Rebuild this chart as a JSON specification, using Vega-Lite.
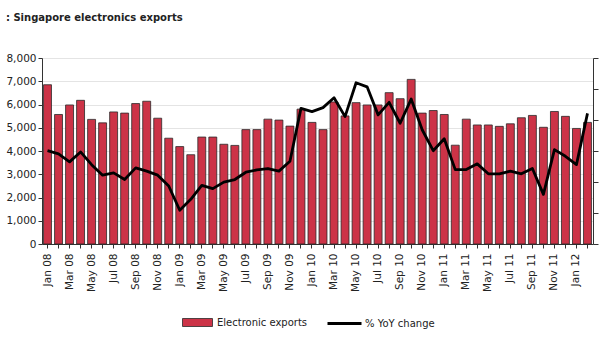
{
  "$schema": "https://vega.github.io/schema/vega-lite/v6.json",
  "width": 599,
  "height": 337,
  "autosize": {"type": "fit", "contains": "padding"},
  "padding": {"left": 5, "top": 13, "right": 0, "bottom": 45},
  "background": "white",
  "title": {
    "text": ": Singapore electronics exports",
    "anchor": "start",
    "offset": 30,
    "font": "DejaVu Sans",
    "fontSize": 10,
    "fontWeight": "bold",
    "color": "#222"
  },
  "config": {
    "view": {"stroke": null},
    "font": "DejaVu Sans",
    "axis": {"labelFont": "DejaVu Sans", "labelFontSize": 10.5, "labelColor": "#222", "domainColor": "#333", "tickColor": "#333"},
    "legend": {
      "labelFont": "DejaVu Sans",
      "labelFontSize": 10,
      "labelColor": "#222"
    }
  },
  "data": {
    "values": [
      {"month": "Jan 08", "exports": 6850, "yoy": 0.2},
      {"month": "Feb 08", "exports": 5570, "yoy": -1.9},
      {"month": "Mar 08", "exports": 5980, "yoy": -7.0},
      {"month": "Apr 08", "exports": 6180, "yoy": -0.6},
      {"month": "May 08", "exports": 5360, "yoy": -8.8},
      {"month": "Jun 08", "exports": 5210, "yoy": -15.6},
      {"month": "Jul 08", "exports": 5680, "yoy": -14.1},
      {"month": "Aug 08", "exports": 5630, "yoy": -18.4},
      {"month": "Sep 08", "exports": 6040, "yoy": -10.9},
      {"month": "Oct 08", "exports": 6140, "yoy": -13.0},
      {"month": "Nov 08", "exports": 5410, "yoy": -15.6},
      {"month": "Dec 08", "exports": 4550, "yoy": -22.6},
      {"month": "Jan 09", "exports": 4190, "yoy": -38.2},
      {"month": "Feb 09", "exports": 3840, "yoy": -31.2},
      {"month": "Mar 09", "exports": 4600, "yoy": -22.2},
      {"month": "Apr 09", "exports": 4600, "yoy": -24.3},
      {"month": "May 09", "exports": 4290, "yoy": -20.1},
      {"month": "Jun 09", "exports": 4240, "yoy": -18.4},
      {"month": "Jul 09", "exports": 4920, "yoy": -13.7},
      {"month": "Aug 09", "exports": 4920, "yoy": -12.2},
      {"month": "Sep 09", "exports": 5370, "yoy": -11.3},
      {"month": "Oct 09", "exports": 5330, "yoy": -13.0},
      {"month": "Nov 09", "exports": 5070, "yoy": -6.6},
      {"month": "Dec 09", "exports": 5800, "yoy": 27.5},
      {"month": "Jan 10", "exports": 5230, "yoy": 25.4},
      {"month": "Feb 10", "exports": 4920, "yoy": 28.0},
      {"month": "Mar 10", "exports": 6110, "yoy": 34.4},
      {"month": "Apr 10", "exports": 5510, "yoy": 22.2},
      {"month": "May 10", "exports": 6080, "yoy": 44.0},
      {"month": "Jun 10", "exports": 5980, "yoy": 41.4},
      {"month": "Jul 10", "exports": 5980, "yoy": 23.3},
      {"month": "Aug 10", "exports": 6510, "yoy": 31.4},
      {"month": "Sep 10", "exports": 6250, "yoy": 17.9},
      {"month": "Oct 10", "exports": 7080, "yoy": 33.5},
      {"month": "Nov 10", "exports": 5630, "yoy": 13.7},
      {"month": "Dec 10", "exports": 5740, "yoy": 0.2},
      {"month": "Jan 11", "exports": 5570, "yoy": 7.9},
      {"month": "Feb 11", "exports": 4250, "yoy": -12.0},
      {"month": "Mar 11", "exports": 5370, "yoy": -12.0},
      {"month": "Apr 11", "exports": 5120, "yoy": -8.3},
      {"month": "May 11", "exports": 5120, "yoy": -14.7},
      {"month": "Jun 11", "exports": 5060, "yoy": -14.7},
      {"month": "Jul 11", "exports": 5170, "yoy": -13.0},
      {"month": "Aug 11", "exports": 5430, "yoy": -14.7},
      {"month": "Sep 11", "exports": 5530, "yoy": -11.3},
      {"month": "Oct 11", "exports": 5020, "yoy": -28.0},
      {"month": "Nov 11", "exports": 5700, "yoy": 0.9},
      {"month": "Dec 11", "exports": 5490, "yoy": -3.4},
      {"month": "Jan 12", "exports": 4970, "yoy": -8.8},
      {"month": "Feb 12", "exports": 5230, "yoy": 24.3}
    ]
  },
  "layer": [
    {
      "mark": {"type": "bar", "stroke": "#2a2a2a", "strokeWidth": 0.8},
      "encoding": {
        "x": {
          "field": "month",
          "type": "ordinal",
          "sort": null,
          "scale": {"paddingInner": 0.28, "paddingOuter": 0.14},
          "axis": {
            "title": null,
            "labelAngle": -90,
            "labelAlign": "right",
            "labelBaseline": "middle",
            "labelPadding": 5,
            "labelOverlap": false,
            "tickSize": 4,
            "labelExpr": "(slice(datum.value,0,3) == 'Jan' || slice(datum.value,0,3) == 'Mar' || slice(datum.value,0,3) == 'May' || slice(datum.value,0,3) == 'Jul' || slice(datum.value,0,3) == 'Sep' || slice(datum.value,0,3) == 'Nov') ? datum.value : ''"
          }
        },
        "y": {
          "field": "exports",
          "type": "quantitative",
          "scale": {"domain": [0, 8000]},
          "axis": {
            "title": null,
            "values": [0, 1000, 2000, 3000, 4000, 5000, 6000, 7000, 8000],
            "labelOverlap": false,
            "grid": true,
            "gridColor": "#e4e4e4",
            "tickSize": 4,
            "labelPadding": 2
          }
        },
        "fill": {
          "datum": "Electronic exports",
          "type": "nominal",
          "scale": {"range": ["#CC3347"]},
          "legend": {
            "title": null,
            "orient": "none",
            "legendX": 150,
            "legendY": {"expr": "height + 73"},
            "symbolType": "M-3,-0.8H3V0.8H-3Z",
            "symbolSize": 100,
            "symbolStrokeColor": "#2a2a2a",
            "symbolStrokeWidth": 0.8,
            "labelOffset": 14
          }
        }
      }
    },
    {
      "mark": {"type": "line", "strokeWidth": 2.8, "strokeJoin": "round"},
      "encoding": {
        "x": {"field": "month", "type": "ordinal", "sort": null},
        "y": {
          "field": "yoy",
          "type": "quantitative",
          "scale": {"domain": [-60, 60]},
          "axis": {
            "title": null,
            "orient": "right",
            "labels": false,
            "grid": false,
            "values": [-60, -40, -20, 0, 20, 40, 60],
            "tickSize": 5
          }
        },
        "stroke": {
          "datum": "% YoY change",
          "type": "nominal",
          "scale": {"range": ["#000000"]},
          "legend": {
            "title": null,
            "orient": "none",
            "legendX": 296,
            "legendY": {"expr": "height + 73"},
            "symbolType": "M-3.4,0H3.4",
            "symbolSize": 100,
            "symbolStrokeWidth": 3,
            "labelOffset": 14
          }
        }
      }
    }
  ],
  "resolve": {"scale": {"y": "independent"}}
}
